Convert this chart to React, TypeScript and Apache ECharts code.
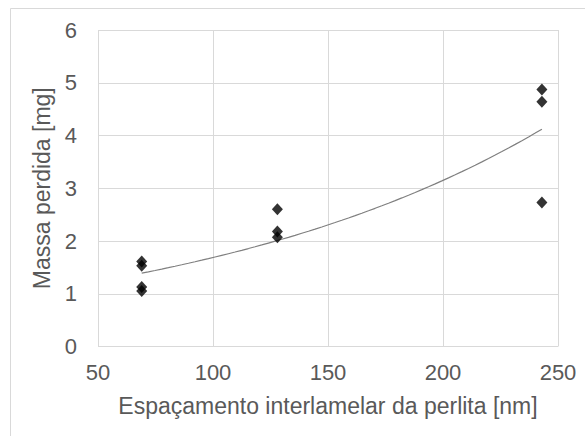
import React, { useEffect, useRef } from "react";
import * as echarts from "echarts";

const spacingX: number[] = [69, 69, 69, 69, 128, 128, 128, 243, 243, 243];
const massLost: number[] = [1.61, 1.53, 1.13, 1.05, 2.6, 2.18, 2.07, 4.87, 4.64, 2.73];
const xTicks: number[] = [50, 100, 150, 200, 250];
const yTicks: number[] = [0, 1, 2, 3, 4, 5, 6];
const xTitle = "Espaçamento interlamelar da perlita [nm]";
const yTitle = "Massa perdida [mg]";

// Exponential trendline (least squares on ln y), like the spreadsheet's trendline
function expFit(xs: number[], ys: number[]) {
  const n = xs.length;
  const ly = ys.map((v) => Math.log(v));
  const mx = xs.reduce((a, b) => a + b, 0) / n;
  const my = ly.reduce((a, b) => a + b, 0) / n;
  let sxy = 0;
  let sxx = 0;
  for (let i = 0; i < n; i++) {
    sxy += (xs[i] - mx) * (ly[i] - my);
    sxx += (xs[i] - mx) * (xs[i] - mx);
  }
  const b = sxy / sxx;
  const a = Math.exp(my - b * mx);
  return { a, b };
}

export default function App() {
  const ref = useRef<HTMLDivElement>(null);
  useEffect(() => {
    if (!ref.current) return;
    const chart = echarts.init(ref.current, undefined, { renderer: "svg" });
    const { a, b } = expFit(spacingX, massLost);
    const xMin = Math.min(...spacingX);
    const xMax = Math.max(...spacingX);
    const trend: number[][] = [];
    const steps = 60;
    for (let i = 0; i <= steps; i++) {
      const x = xMin + ((xMax - xMin) * i) / steps;
      trend.push([x, a * Math.exp(b * x)]);
    }
    const pts = spacingX.map((x, i) => [x, massLost[i]]);
    const font = "'Liberation Sans', Arial, sans-serif";
    chart.setOption({
      animation: false,
      backgroundColor: "#ffffff",
      graphic: [
        {
          type: "rect",
          shape: { x: 10.5, y: 8.5, width: 700, height: 600 },
          style: { fill: "none", stroke: "#d9d9d9", lineWidth: 1 },
          silent: true,
          z: -10,
        },
      ],
      grid: { left: 98, right: 27, top: 30, bottom: 89.5, containLabel: false },
      xAxis: {
        type: "value",
        min: xTicks[0],
        max: xTicks[xTicks.length - 1],
        interval: 50,
        name: xTitle,
        nameLocation: "middle",
        nameGap: 48,
        nameTextStyle: { color: "#595959", fontSize: 23, fontFamily: font },
        axisLine: { show: false },
        axisTick: { show: false },
        axisLabel: { color: "#595959", fontSize: 22, fontFamily: font, margin: 15 },
        splitLine: { show: true, lineStyle: { color: "#d9d9d9", width: 1 } },
      },
      yAxis: {
        type: "value",
        min: yTicks[0],
        max: yTicks[yTicks.length - 1],
        interval: 1,
        name: yTitle,
        nameLocation: "middle",
        nameGap: 38,
        nameRotate: 90,
        nameTextStyle: { color: "#595959", fontSize: 23, fontFamily: font },
        axisLine: { show: false },
        axisTick: { show: false },
        axisLabel: { color: "#595959", fontSize: 22, fontFamily: font, margin: 21 },
        splitLine: { show: true, lineStyle: { color: "#d9d9d9", width: 1 } },
      },
      series: [
        {
          type: "line",
          data: trend,
          showSymbol: false,
          symbol: "none",
          lineStyle: { color: "#7f7f7f", width: 1.2 },
          z: 2,
        },
        {
          type: "scatter",
          data: pts,
          symbol: "diamond",
          symbolSize: [11, 12],
          itemStyle: { color: "#000000" },
          z: 3,
        },
      ],
    });
    return () => chart.dispose();
  }, []);
  return (
    <div
      ref={ref}
      style={{ position: "fixed", left: 0, top: 0, width: 585, height: 436, overflow: "hidden" }}
    />
  );
}
